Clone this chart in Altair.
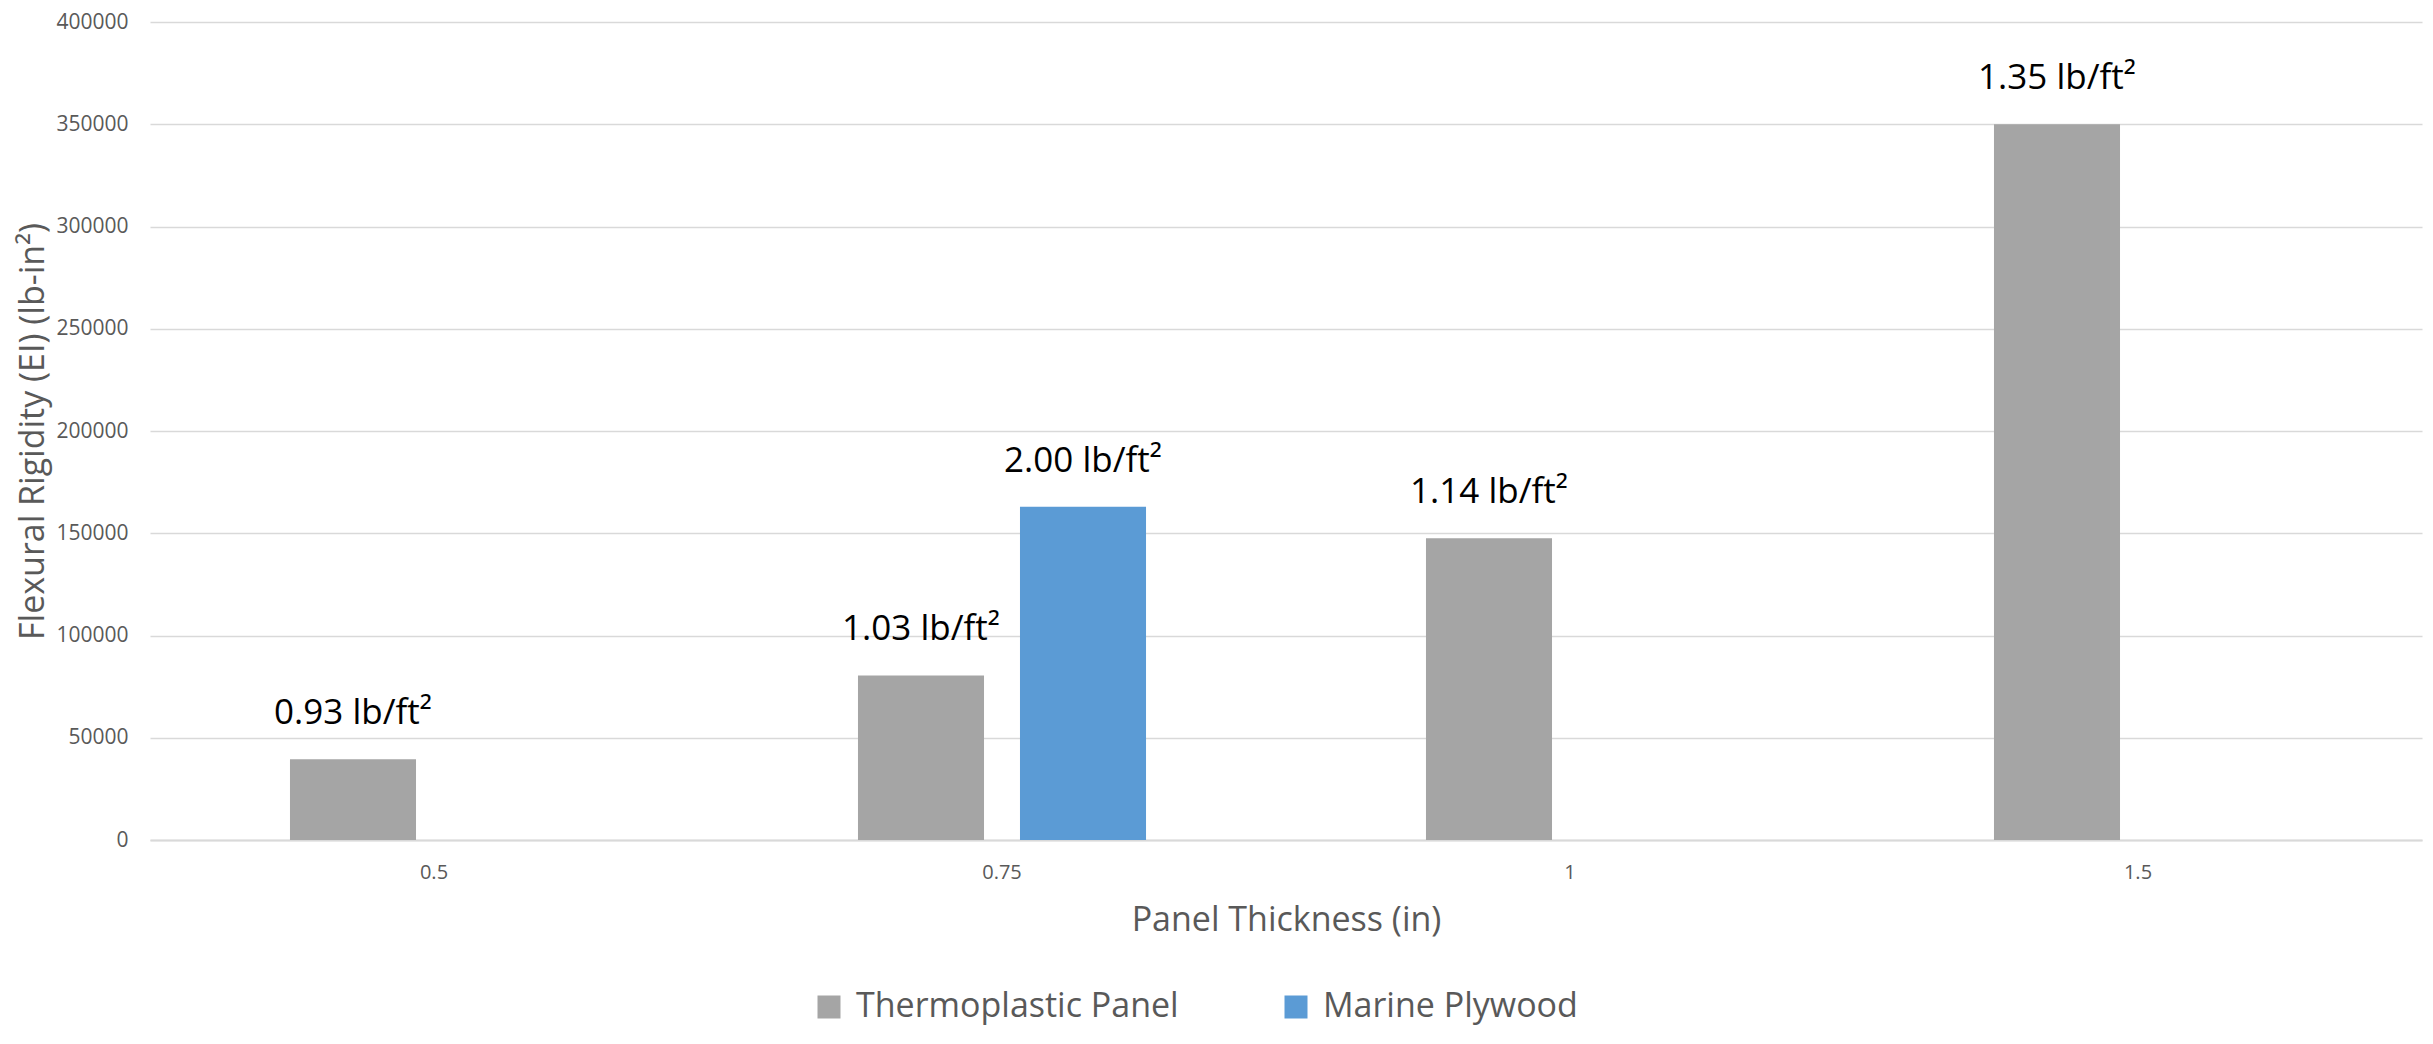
import altair as alt
import pandas as pd

# ---- data ----
thickness = ["0.5", "0.75", "1", "1.5"]
series = ["Thermoplastic Panel", "Marine Plywood"]
colors = ["#a5a5a5", "#5b9bd5"]

thermo_thickness = ["0.5", "0.75", "1", "1.5"]
thermo_values = [39500, 80500, 147500, 350000]
thermo_labels = ["0.93 lb/ft²", "1.03 lb/ft²", "1.14 lb/ft²", "1.35 lb/ft²"]

plywood_thickness = ["0.75"]
plywood_values = [163000]
plywood_labels = ["2.00 lb/ft²"]

y_ticks = [0, 50000, 100000, 150000, 200000, 250000, 300000, 350000, 400000]

rows = []
for t, v, l in zip(thermo_thickness, thermo_values, thermo_labels):
    rows.append({"thickness": t, "series": series[0], "value": v, "label": l})
for t, v, l in zip(plywood_thickness, plywood_values, plywood_labels):
    rows.append({"thickness": t, "series": series[1], "value": v, "label": l})
df = pd.DataFrame(rows)

MAINF = "'Open Sans', sans-serif"
TICKF = "'Open Sans', sans-serif"

base = alt.Chart(df).encode(
    x=alt.X(
        "thickness:N",
        sort=thickness,
        scale=alt.Scale(domain=thickness, paddingInner=0, paddingOuter=0),
        title="Panel Thickness (in)",
        axis=alt.Axis(
            labelAngle=0,
            labelFont=TICKF,
            labelFontSize=20,
            labelColor="#595959",
            labelPadding=22,
            ticks=False,
            domainColor="#d9d9d9",
            domainWidth=2,
            titleFont=MAINF,
            titleFontSize=34,
            titleFontWeight="normal",
            titleColor="#595959",
            titleBaseline="middle",
            titleY=80,
        ),
    ),
    xOffset=alt.XOffset(
        "series:N",
        sort=series,
        scale=alt.Scale(domain=series, paddingInner=0.222, paddingOuter=0.864),
    ),
    y=alt.Y(
        "value:Q",
        scale=alt.Scale(domain=[0, 400000], nice=False),
        title="Flexural Rigidity (EI) (lb-in²)",
        axis=alt.Axis(
            values=y_ticks,
            format="d",
            labelFont=TICKF,
            labelFontSize=21,
            labelColor="#595959",
            labelPadding=22,
            ticks=False,
            domain=False,
            gridColor="#d9d9d9",
            gridWidth=1.5,
            titleFont=MAINF,
            titleFontSize=34,
            titleFontWeight="normal",
            titleColor="#595959",
            titleBaseline="middle",
            titleX=-117,
            titleY=409,
        ),
    ),
)

bars = base.mark_bar(strokeWidth=0).encode(
    color=alt.Color(
        "series:N",
        sort=series,
        scale=alt.Scale(domain=series, range=colors),
        legend=alt.Legend(
            title=None,
            orient="none",
            direction="horizontal",
            legendX=662,
            legendY=968,
            symbolType="square",
            symbolSize=529,
            symbolStrokeWidth=0,
            labelFont=MAINF,
            labelFontSize=34,
            labelColor="#595959",
            labelOffset=10,
            labelLimit=0,
            columnPadding=100,
            padding=0,
        ),
    )
)

labels = base.mark_text(
    dy=-46, baseline="middle", align="center", fontSize=35, font=MAINF, color="#000000"
).encode(text="label:N")

chart = (
    alt.layer(bars, labels)
    .properties(
        width=2272,
        height=818,
        padding={"left": 142, "top": 14, "right": 3, "bottom": 196},
        autosize=alt.AutoSizeParams(type="none"),
        background="white",
    )
    .configure_view(stroke=None)
)

chart.save("out.html", embed_options={"renderer": "svg", "actions": False})
